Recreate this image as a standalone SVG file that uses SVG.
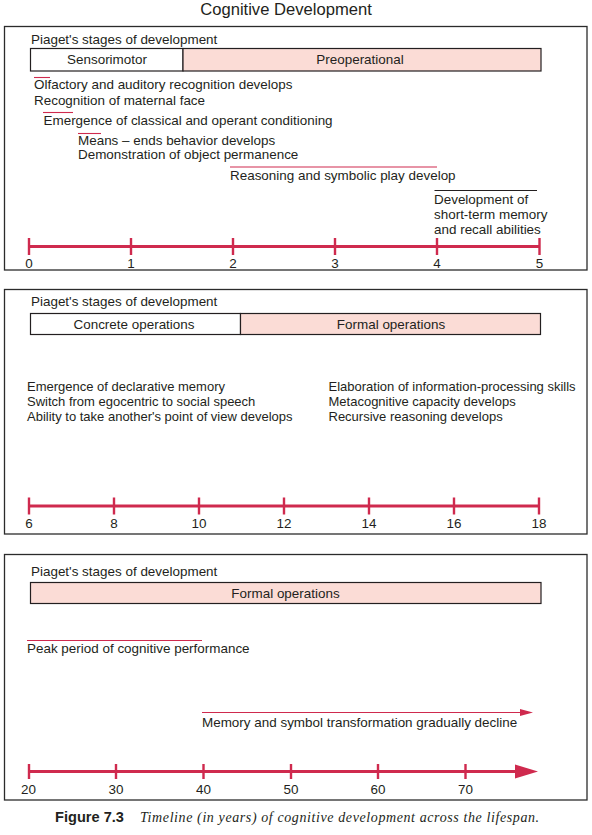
<svg xmlns="http://www.w3.org/2000/svg" width="592" height="835" viewBox="0 0 592 835">
<style>
.t{font-family:"Liberation Sans",Arial,Helvetica,sans-serif;font-size:13.45px;fill:#231f20}
.s{font-size:13px}
.c{text-anchor:middle}
.panel{fill:#fff;stroke:#2b2b2b;stroke-width:1.3}
.stage{stroke:#231f20;stroke-width:1.2}
.w{fill:#fff}
.p{fill:#fbdcd6}
.ax{stroke:#cf2a4e;stroke-width:2.8;fill:none}
.tk{stroke:#cf2a4e;stroke-width:2.4}
.rl{stroke:#cf2a4e;stroke-width:1.1}
.bl{stroke:#231f20;stroke-width:1.1}
.ah{fill:#cf2a4e}
</style>
<rect width="592" height="835" fill="#fff"/>
<text class="t c" x="286" y="15" style="font-size:16.6px">Cognitive Development</text>

<g id="panel1">
<rect class="panel" x="4.5" y="26.5" width="582.5" height="243.5"/>
<text class="t" x="31" y="43.5">Piaget's stages of development</text>
<g id="sensorimotor"><rect class="stage w" x="30.5" y="48.5" width="152.5" height="22.5"/><text class="t c" x="107" y="64">Sensorimotor</text></g>
<g id="preoperational"><rect class="stage p" x="183" y="48.5" width="358" height="22.5"/><text class="t c" x="360" y="64">Preoperational</text></g>
<g id="e-olfactory"><text class="t" x="34" y="89">Olfactory and auditory recognition develops</text><text class="t" x="34" y="105">Recognition of maternal face</text></g>
<g id="e-conditioning"><text class="t" x="43.5" y="125">Emergence of classical and operant conditioning</text></g>
<g id="e-means"><text class="t" x="78" y="144.5">Means – ends behavior develops</text><text class="t" x="78" y="158.5">Demonstration of object permanence</text></g>
<g id="e-reasoning"><text class="t" x="230" y="179.5">Reasoning and symbolic play develop</text></g>
<g id="e-memory"><text class="t" x="434" y="204">Development of</text><text class="t" x="434" y="219">short-term memory</text><text class="t" x="434" y="234">and recall abilities</text></g>
<g id="axis1-labels">
<text class="t c" x="29" y="268">0</text><text class="t c" x="131" y="268">1</text><text class="t c" x="233" y="268">2</text><text class="t c" x="335" y="268">3</text><text class="t c" x="437" y="268">4</text><text class="t c" x="539.5" y="268">5</text>
</g>
</g>

<g id="panel2">
<rect class="panel" x="4.5" y="289.5" width="582.5" height="244.5"/>
<text class="t" x="31" y="306">Piaget's stages of development</text>
<g id="concrete"><rect class="stage w" x="30.5" y="313.5" width="210" height="21"/><text class="t c" x="134" y="328.5">Concrete operations</text></g>
<g id="formal1"><rect class="stage p" x="240.5" y="313.5" width="300" height="21"/><text class="t c" x="391" y="328.5">Formal operations</text></g>
<g id="e-left"><text class="t s" x="27" y="391">Emergence of declarative memory</text><text class="t s" x="27" y="406">Switch from egocentric to social speech</text><text class="t s" x="27" y="421">Ability to take another's point of view develops</text></g>
<g id="e-right"><text class="t s" x="328.5" y="391">Elaboration of information-processing skills</text><text class="t s" x="328.5" y="406">Metacognitive capacity develops</text><text class="t s" x="328.5" y="421">Recursive reasoning develops</text></g>
<g id="axis2-labels">
<text class="t c" x="29" y="527.5">6</text><text class="t c" x="114" y="527.5">8</text><text class="t c" x="199" y="527.5">10</text><text class="t c" x="284" y="527.5">12</text><text class="t c" x="369" y="527.5">14</text><text class="t c" x="454" y="527.5">16</text><text class="t c" x="539" y="527.5">18</text>
</g>
</g>

<g id="panel3">
<rect class="panel" x="4.5" y="554.5" width="582.5" height="245.5"/>
<text class="t" x="31" y="576">Piaget's stages of development</text>
<g id="formal2"><rect class="stage p" x="30.5" y="582.5" width="510.5" height="21"/><text class="t c" x="285.5" y="597.5">Formal operations</text></g>
<g id="e-peak"><text class="t" x="27" y="653">Peak period of cognitive performance</text></g>
<g id="e-decline"><text class="t" x="202" y="726.5">Memory and symbol transformation gradually decline</text></g>
<g id="axis3-labels">
<text class="t c" x="28.5" y="793.5">20</text><text class="t c" x="116" y="793.5">30</text><text class="t c" x="203.5" y="793.5">40</text><text class="t c" x="291" y="793.5">50</text><text class="t c" x="378" y="793.5">60</text><text class="t c" x="465.5" y="793.5">70</text>
</g>
</g>

<g id="connectors">
<line class="rl" x1="34" y1="77.5" x2="50" y2="77.5"/>
<line class="rl" x1="43" y1="112.5" x2="73" y2="112.5"/>
<line class="rl" x1="78" y1="133.5" x2="101" y2="133.5"/>
<line class="rl" x1="230" y1="167" x2="437" y2="167"/>
<line class="bl" x1="434.5" y1="190.5" x2="537" y2="190.5"/>
<line class="ax" x1="29" y1="246.5" x2="539.5" y2="246.5"/>
<path class="tk" d="M29 238V255M131 238V255M233 238V255M335 238V255M437 238V255M539.5 238V255"/>

<line class="ax" x1="29" y1="506" x2="539" y2="506"/>
<path class="tk" d="M29 497.5V514.5M114 497.5V514.5M199 497.5V514.5M284 497.5V514.5M369 497.5V514.5M454 497.5V514.5M539 497.5V514.5"/>

<line class="rl" x1="27" y1="640.5" x2="202" y2="640.5"/>
<line class="rl" x1="202" y1="712.5" x2="524" y2="712.5"/>
<polygon class="ah" points="520,709 533,712.5 520,716"/>
<line class="ax" x1="29" y1="771.5" x2="518" y2="771.5"/>
<polygon class="ah" points="515,764.5 538,771.5 515,778.5"/>
<path class="tk" d="M29 764V779M116 764V779M203.5 764V779M291 764V779M378 764V779M465.5 764V779"/>
</g>

<g id="caption">
<text x="55" y="822" style="font-family:'Liberation Sans',Arial,sans-serif;font-size:14.6px;font-weight:bold;fill:#231f20">Figure 7.3</text>
<text x="140" y="822" style="font-family:'Liberation Serif','Times New Roman',serif;font-size:14px;font-style:italic;letter-spacing:0.6px;fill:#231f20">Timeline (in years) of cognitive development across the lifespan.</text>
</g>
</svg>
